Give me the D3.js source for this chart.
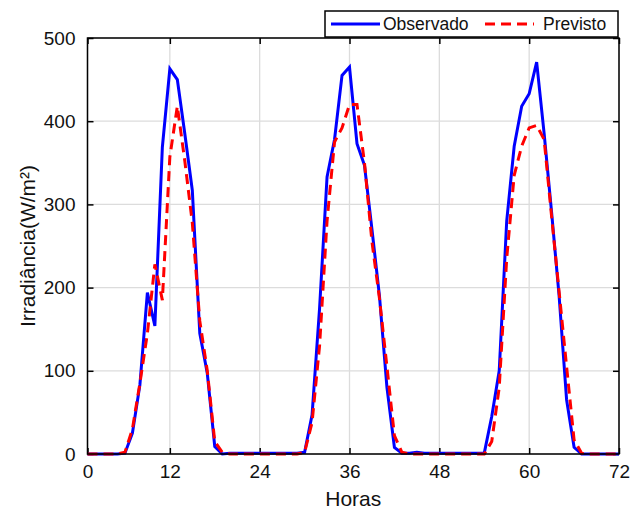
<!DOCTYPE html>
<html>
<head>
<meta charset="utf-8">
<script src="https://cdn.jsdelivr.net/npm/d3@7"></script>
<style>
  body { margin: 0; background: #fff; }
  text { font-family: "Liberation Sans", Arial, sans-serif; fill: #111; }
</style>
</head>
<body>
<svg id="chart"></svg>
<script>
// hourly readings, hour 1..72
const observado = [
  0, 0, 0, 0, 0, 1, 25, 83, 194, 154, 369, 463, 450, 385, 317, 145, 97, 9, 0, 1,
  1, 1, 1, 1, 1, 1, 1, 1, 1, 2, 47, 175, 333, 378, 455, 465, 373, 347, 270, 190,
  80, 8, 1, 1, 2, 1, 1, 1, 1, 1, 1, 1, 1, 1, 45, 100, 280, 370, 418, 433,
  471, 385, 290, 190, 65, 8, 0, 0, 0, 0, 0, 0
];
const previsto = [
  0, 0, 0, 0, 0, 2, 30, 85, 145, 228, 185, 357, 418, 352, 278, 160, 100, 15, 2, 0,
  0, 0, 0, 0, 0, 0, 0, 0, 0, 2, 38, 130, 280, 375, 392, 420, 420, 350, 255, 187,
  105, 22, 2, 0, 0, 0, 0, 0, 0, 0, 0, 0, 0, 0, 15, 80, 235, 335, 370, 392,
  395, 378, 285, 195, 105, 17, 1, 0, 0, 0, 0, 0
];
const xTicks = [1, 12, 24, 36, 48, 60, 72];
const xTickLabels = ["0", "12", "24", "36", "48", "60", "72"];
const yTicks = [0, 100, 200, 300, 400, 500];

const width = 636, height = 512;
const margin = { top: 38, right: 17, bottom: 58, left: 87.5 };

const svg = d3.select("#chart")
  .attr("width", width)
  .attr("height", height);

const x = d3.scaleLinear()
  .domain([1, 72])
  .range([margin.left, width - margin.right]);

const y = d3.scaleLinear()
  .domain([0, 500])
  .range([height - margin.bottom, margin.top]);

// grid
svg.append("g")
  .selectAll("line")
  .data(xTicks)
  .join("line")
    .attr("x1", d => x(d)).attr("x2", d => x(d))
    .attr("y1", y(0)).attr("y2", y(500))
    .attr("stroke", "#dcdcdc")
    .attr("stroke-width", 1.3);

svg.append("g")
  .selectAll("line")
  .data(yTicks)
  .join("line")
    .attr("x1", x(1)).attr("x2", x(72))
    .attr("y1", d => y(d)).attr("y2", d => y(d))
    .attr("stroke", "#dcdcdc")
    .attr("stroke-width", 1.3);

// axes, ticks point inward on all four sides
const tickLen = 6;
const xAxis = d3.axisBottom(x)
  .tickValues(xTicks)
  .tickFormat((d, i) => xTickLabels[i])
  .tickSizeInner(-tickLen)
  .tickSizeOuter(0)
  .tickPadding(11);
const yAxis = d3.axisLeft(y)
  .tickValues(yTicks)
  .tickSizeInner(-tickLen)
  .tickSizeOuter(0)
  .tickPadding(12);

function styleAxis(g) {
  g.select(".domain").remove();
  g.selectAll(".tick line").attr("stroke", "#000").attr("stroke-width", 1.5);
  g.selectAll("text").attr("font-size", 19);
}

svg.append("g")
  .attr("transform", `translate(0,${y(0)})`)
  .call(xAxis)
  .call(styleAxis);
svg.append("g")
  .attr("transform", `translate(0,${y(500)})`)
  .call(d3.axisTop(x).tickValues(xTicks).tickFormat("").tickSizeInner(-tickLen).tickSizeOuter(0))
  .call(styleAxis);
svg.append("g")
  .attr("transform", `translate(${x(1)},0)`)
  .call(yAxis)
  .call(styleAxis);
svg.append("g")
  .attr("transform", `translate(${x(72)},0)`)
  .call(d3.axisRight(y).tickValues(yTicks).tickFormat("").tickSizeInner(-tickLen).tickSizeOuter(0))
  .call(styleAxis);

// series
const line = d3.line()
  .x((d, i) => x(i + 1))
  .y(d => y(d));

svg.append("path")
  .datum(observado)
  .attr("d", line)
  .attr("fill", "none")
  .attr("stroke", "#0000ff")
  .attr("stroke-width", 3)
  .attr("stroke-linejoin", "miter");

svg.append("path")
  .datum(previsto)
  .attr("d", line)
  .attr("fill", "none")
  .attr("stroke", "#ff0000")
  .attr("stroke-width", 3)
  .attr("stroke-dasharray", "10,6");

// box
svg.append("rect")
  .attr("x", x(1)).attr("y", y(500))
  .attr("width", x(72) - x(1)).attr("height", y(0) - y(500))
  .attr("fill", "none")
  .attr("stroke", "#000")
  .attr("stroke-width", 1.5);

// axis labels
svg.append("text")
  .attr("x", (x(1) + x(72)) / 2)
  .attr("y", 506)
  .attr("text-anchor", "middle")
  .attr("font-size", 21)
  .text("Horas");

svg.append("text")
  .attr("transform", `translate(35,${(y(0) + y(500)) / 2}) rotate(-90)`)
  .attr("text-anchor", "middle")
  .attr("font-size", 21)
  .text("Irradiância(W/m²)");

// legend
const legend = svg.append("g");
legend.append("rect")
  .attr("x", 325).attr("y", 11)
  .attr("width", 293).attr("height", 26)
  .attr("fill", "#fff")
  .attr("stroke", "#000")
  .attr("stroke-width", 1.5);
legend.append("line")
  .attr("x1", 331).attr("x2", 380)
  .attr("y1", 24).attr("y2", 24)
  .attr("stroke", "#0000ff").attr("stroke-width", 3);
legend.append("text")
  .attr("x", 383).attr("y", 30)
  .attr("font-size", 17.5)
  .text("Observado");
legend.append("line")
  .attr("x1", 485).attr("x2", 534)
  .attr("y1", 24).attr("y2", 24)
  .attr("stroke", "#ff0000").attr("stroke-width", 3)
  .attr("stroke-dasharray", "10,6");
legend.append("text")
  .attr("x", 543).attr("y", 30)
  .attr("font-size", 17.5)
  .text("Previsto");
</script>
</body>
</html>
